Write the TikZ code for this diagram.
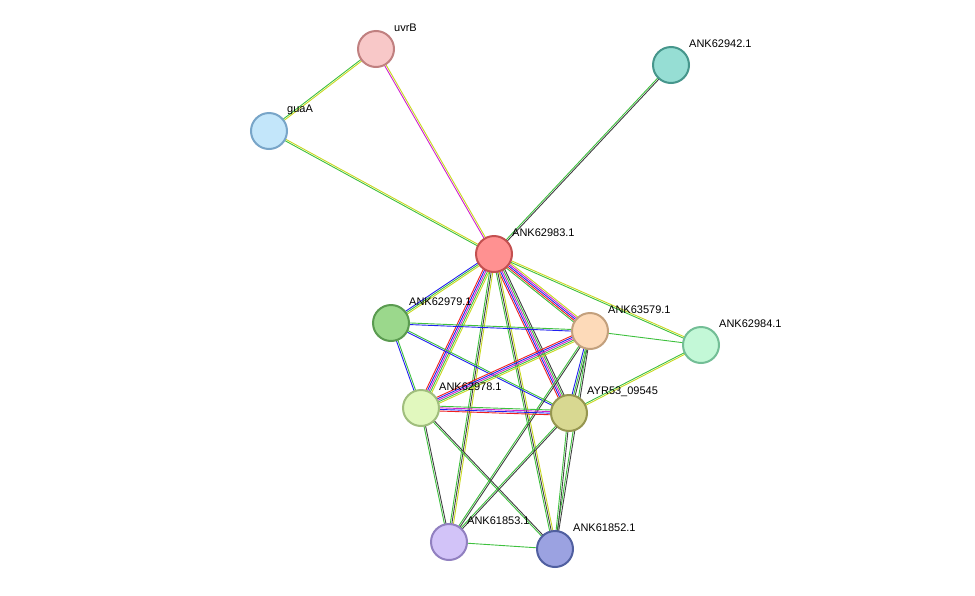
\documentclass[tikz,border=0pt]{standalone}
\usepackage{fontspec}
\setmainfont{Liberation Sans}
\usetikzlibrary{calc,backgrounds}
\definecolor{eg}{HTML}{3EC03E}\definecolor{er}{HTML}{F02020}\definecolor{eb}{HTML}{2020F0}
\definecolor{em}{HTML}{D020D0}\definecolor{ey}{HTML}{C8D820}\definecolor{ek}{HTML}{404040}
\tikzset{prot/.style={circle,minimum size=36pt,inner sep=0pt,line width=2pt},
 lab/.style={anchor=west,font=\fontsize{11}{12}\selectfont,inner sep=0pt}}
\newcommand\edg[4]{\foreach \c [count=\i] in {#4} {\pgfmathsetmacro\o{(\i-(#3+1)/2)*1.6}
 \draw[\c,line width=0.9pt] ($(#1.center)!\o pt!90:(#2.center)$) -- ($(#2.center)!\o pt!-90:(#1.center)$);}}
\newcommand\prot[6]{\definecolor{f#1}{HTML}{#4}\definecolor{d#1}{HTML}{#5}%
 \node[prot,fill=f#1,draw=d#1] (#1) at (#2,#3) {};
 \node[lab] (#1-l) at (#2+18,#3-21) {#6};}
\begin{document}
\begin{tikzpicture}[x=1pt,y=-1pt]
\useasboundingbox (0,0) rectangle (975,595);
\prot{uvrB}{376}{49}{F8C8C8}{C08080}{uvrB}
\prot{n942}{671}{65}{96DED4}{46968C}{ANK62942.1}
\prot{guaA}{269}{131}{C3E6FA}{78A5C8}{guaA}
\prot{n983}{494}{254}{FF9191}{C35050}{ANK62983.1}
\prot{n979}{391}{323}{9BD88C}{5A9B50}{ANK62979.1}
\prot{n579}{590}{331}{FDDAB9}{C3A07D}{ANK63579.1}
\prot{n984}{701}{345}{C3F8D7}{73BE96}{ANK62984.1}
\prot{n978}{421}{408}{E1F8BE}{A0BE7D}{ANK62978.1}
\prot{ayr}{569}{413}{D8D891}{969650}{AYR53\_09545}
\prot{n853}{449}{542}{D2C3F8}{9180C0}{ANK61853.1}
\prot{n852}{555}{549}{9BA2E1}{505FA0}{ANK61852.1}
\begin{scope}[on background layer]
\edg{uvrB}{guaA}{2}{eg,ey}
\edg{uvrB}{n983}{2}{em,ey}
\edg{guaA}{n983}{2}{eg,ey}
\edg{n942}{n983}{2}{eg,ek}
\edg{n983}{n979}{3}{eb,eg,ey}
\edg{n983}{n579}{5}{eg,er,eb,em,ey}
\edg{n983}{n984}{2}{eg,ey}
\edg{n983}{n978}{5}{er,eb,em,eg,ey}
\edg{n983}{ayr}{5}{er,eb,em,eg,ek}
\edg{n983}{n853}{3}{eg,ek,ey}
\edg{n983}{n852}{3}{eg,ek,ey}
\edg{n979}{n579}{2}{eb,eg}
\edg{n979}{n978}{2}{eb,eg}
\edg{n979}{ayr}{2}{eb,eg}
\edg{n579}{n984}{1}{eg}
\edg{n579}{n978}{5}{er,eb,em,eg,ey}
\edg{n579}{ayr}{3}{eb,eg,ek}
\edg{n579}{n853}{2}{eg,ek}
\edg{n579}{n852}{2}{eg,ek}
\edg{n984}{ayr}{2}{eg,ey}
\edg{n978}{ayr}{4}{er,eb,em,eg}
\edg{n978}{n853}{2}{eg,ek}
\edg{n978}{n852}{2}{eg,ek}
\edg{ayr}{n853}{2}{eg,ek}
\edg{ayr}{n852}{2}{eg,ek}
\edg{n853}{n852}{1}{eg}
\end{scope}
\end{tikzpicture}
\end{document}
